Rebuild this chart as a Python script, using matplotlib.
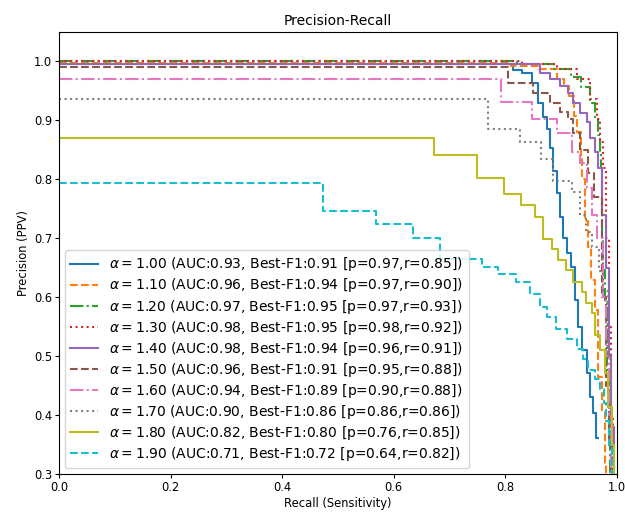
import matplotlib
matplotlib.use("Agg")
import matplotlib.pyplot as plt

alphas = [1.00, 1.10, 1.20, 1.30, 1.40, 1.50, 1.60, 1.70, 1.80, 1.90]
aucs = [0.93, 0.96, 0.97, 0.98, 0.98, 0.96, 0.94, 0.90, 0.82, 0.71]
best_f1 = [0.91, 0.94, 0.95, 0.95, 0.94, 0.91, 0.89, 0.86, 0.80, 0.72]
best_p = [0.97, 0.97, 0.97, 0.98, 0.96, 0.95, 0.90, 0.86, 0.76, 0.64]
best_r = [0.85, 0.90, 0.93, 0.92, 0.91, 0.88, 0.88, 0.86, 0.85, 0.82]

# recall / precision vertices of each curve (step-post)
recall_100 = [0, 0.814, 0.83, 0.848, 0.858, 0.868, 0.874, 0.88, 0.885, 0.892, 0.898,
              0.903, 0.91, 0.918, 0.925, 0.93, 0.937, 0.946, 0.952, 0.957, 0.962, 0.966]
prec_100 = [0.996, 0.985, 0.98, 0.963, 0.929, 0.905, 0.886, 0.854, 0.815, 0.776, 0.736,
            0.70, 0.675, 0.651, 0.595, 0.549, 0.51, 0.471, 0.43, 0.403, 0.361, 0.361]

recall_110 = [0, 0.81, 0.86, 0.892, 0.905, 0.914, 0.923, 0.928, 0.935, 0.937, 0.943,
              0.948, 0.953, 0.961, 0.966, 0.973, 0.978, 0.98]
prec_110 = [0.998, 0.993, 0.988, 0.971, 0.959, 0.942, 0.908, 0.88, 0.84, 0.80, 0.73,
            0.685, 0.629, 0.578, 0.464, 0.408, 0.318, 0.30]

recall_120 = [0, 0.82, 0.887, 0.918, 0.936, 0.952, 0.961, 0.966, 0.970, 0.972, 0.973,
              0.975, 0.979, 0.982, 0.985, 0.988]
prec_120 = [1.0, 0.995, 0.988, 0.973, 0.956, 0.93, 0.903, 0.875, 0.846, 0.819, 0.70,
            0.646, 0.59, 0.464, 0.375, 0.30]

recall_130 = [0, 0.83, 0.893, 0.928, 0.952, 0.964, 0.97, 0.975, 0.98, 0.985, 0.99, 0.993]
prec_130 = [1.0, 0.995, 0.988, 0.971, 0.937, 0.903, 0.863, 0.819, 0.7, 0.55, 0.4, 0.3]

recall_140 = [0, 0.862, 0.88, 0.898, 0.912, 0.921, 0.934, 0.946, 0.952, 0.961, 0.966,
              0.973, 0.98, 0.985, 0.99, 0.994]
prec_140 = [0.995, 0.98, 0.971, 0.959, 0.946, 0.93, 0.912, 0.897, 0.871, 0.846, 0.819,
            0.74, 0.65, 0.5, 0.38, 0.3]

recall_150 = [0, 0.805, 0.85, 0.88, 0.898, 0.912, 0.921, 0.934, 0.948, 0.958, 0.973,
              0.98, 0.985, 0.99]
prec_150 = [0.99, 0.964, 0.946, 0.929, 0.914, 0.903, 0.878, 0.849, 0.81, 0.77, 0.6,
            0.45, 0.35, 0.3]

recall_160 = [0, 0.792, 0.848, 0.892, 0.919, 0.934, 0.946, 0.955, 0.965, 0.975, 0.98,
              0.985, 0.99]
prec_160 = [0.971, 0.931, 0.902, 0.878, 0.846, 0.827, 0.786, 0.74, 0.70, 0.6, 0.5,
            0.4, 0.3]

recall_170 = [0, 0.769, 0.826, 0.864, 0.885, 0.919, 0.934, 0.945, 0.955, 0.968, 0.975,
              0.983, 0.99, 0.995]
prec_170 = [0.937, 0.885, 0.863, 0.834, 0.798, 0.778, 0.74, 0.71, 0.685, 0.645, 0.61,
            0.5, 0.35, 0.3]

recall_180 = [0, 0.672, 0.749, 0.797, 0.828, 0.853, 0.867, 0.883, 0.894, 0.909, 0.921,
              0.937, 0.944, 0.955, 0.961, 0.970, 0.978, 0.984, 0.991, 0.995]
prec_180 = [0.871, 0.842, 0.802, 0.775, 0.756, 0.736, 0.698, 0.681, 0.663, 0.646, 0.625,
            0.608, 0.590, 0.573, 0.536, 0.51, 0.471, 0.414, 0.35, 0.3]

recall_190 = [0, 0.473, 0.568, 0.634, 0.683, 0.758, 0.787, 0.819, 0.844, 0.862, 0.875,
              0.891, 0.910, 0.928, 0.939, 0.948, 0.961, 0.970, 0.977, 0.980, 0.986,
              0.991, 0.993]
prec_190 = [0.793, 0.747, 0.725, 0.701, 0.665, 0.651, 0.639, 0.625, 0.605, 0.583, 0.566,
            0.546, 0.529, 0.512, 0.495, 0.476, 0.461, 0.444, 0.42, 0.39, 0.35, 0.3, 0.3]

recalls = [recall_100, recall_110, recall_120, recall_130, recall_140,
           recall_150, recall_160, recall_170, recall_180, recall_190]
precisions = [prec_100, prec_110, prec_120, prec_130, prec_140,
              prec_150, prec_160, prec_170, prec_180, prec_190]
styles = ["-", "--", "-.", ":", "-", "--", "-.", ":", "-", "--"]


def main():
    fig = plt.figure(figsize=(6.25, 5.13), dpi=100)
    ax = fig.add_axes([0.0944, 0.076, 0.8928, 0.8616])

    for i in range(len(alphas)):
        label = (r"$\alpha = %.2f$" % alphas[i]
                 + " (AUC:%.2f, Best-F1:%.2f [p=%.2f,r=%.2f])"
                 % (aucs[i], best_f1[i], best_p[i], best_r[i]))
        ax.step(recalls[i], precisions[i], where="post", color="C%d" % i,
                linestyle=styles[i], linewidth=1.5, label=label)

    ax.set_xlim(0, 1)
    ax.set_ylim(0.3, 1.05)
    ax.set_title("Precision-Recall", fontsize=10, pad=5)
    ax.set_xlabel("Recall (Sensitivity)", fontsize=8.3, labelpad=2)
    ax.set_ylabel("Precision (PPV)", fontsize=8.3, labelpad=3)
    ax.tick_params(labelsize=8.3, length=3, pad=2)
    ax.legend(loc="lower left", fontsize=10, labelspacing=0.22,
              borderaxespad=0.4)

    fig.savefig("out.png")
    plt.close(fig)


if __name__ == "__main__":
    main()
